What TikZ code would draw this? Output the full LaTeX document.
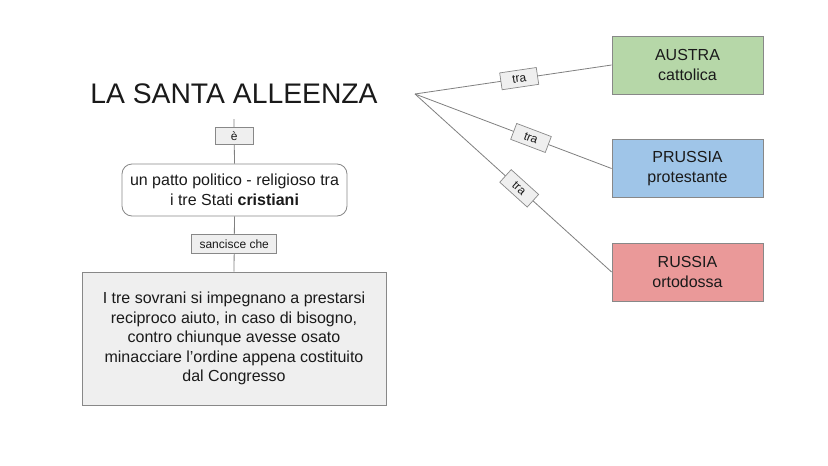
\documentclass[tikz,border=0pt]{standalone}
\usepackage{fontspec}
\setmainfont{Liberation Sans}
\definecolor{lineg}{HTML}{808080}
\definecolor{boxg}{HTML}{EFEFEF}
\definecolor{bord}{HTML}{888888}
\definecolor{txt}{HTML}{1A1A1A}
\definecolor{verde}{HTML}{B6D7A8}
\definecolor{blu}{HTML}{9FC5E8}
\definecolor{rosso}{HTML}{EA9999}
\tikzset{
  conn/.style={draw=lineg, line width=0.8pt},
  lab/.style={draw=bord, fill=boxg, line width=0.7pt, inner sep=0pt, text=txt,
    font=\fontsize{12}{14}\selectfont},
  country/.style={draw=bord, line width=0.8pt, minimum width=151pt, minimum height=58pt,
    inner sep=0pt, align=center, text=txt, font=\fontsize{16}{19.5}\selectfont},
}
\begin{document}
\begin{tikzpicture}[x=1pt,y=-1pt]
\useasboundingbox[fill=white] (0,0) rectangle (828,466);
\node[inner xsep=0pt, inner ysep=15pt, text=txt, font=\fontsize{28.3}{34}\selectfont] (title) at (234,94) {LA SANTA ALLEENZA};
\node[draw=bord, line width=0.8pt, rounded corners=10pt, minimum width=225pt, minimum height=52pt,
  inner sep=0pt, align=center, text=txt, font=\fontsize{16}{19.5}\selectfont] (patto) at (234.5,190)
  {un patto politico - religioso tra\\i tre Stati \textbf{cristiani}};
\node[draw=bord, fill=boxg, line width=0.8pt, minimum width=304pt, minimum height=133pt,
  inner sep=0pt, align=center, text=txt, font=\fontsize{16}{19.5}\selectfont] (big) at (234,338.5)
  {I tre sovrani si impegnano a prestarsi\\reciproco aiuto, in caso di bisogno,\\contro chiunque avesse osato\\minacciare l'ordine appena costituito\\dal Congresso};
\draw[conn] (title.south) -- node[lab, pos=0.375, minimum width=38pt, minimum height=17pt] (e) {è} (patto.north);
\draw[conn] (patto.south) -- node[lab, pos=0.5, minimum width=85pt, minimum height=19pt] (sc) {sancisce che} (big.north);
\coordinate (hub) at (415,94);
\node[country, fill=verde] (au) at (687.5,65) {AUSTRA\\cattolica};
\node[country, fill=blu] (pr) at (687.5,168.5) {PRUSSIA\\protestante};
\node[country, fill=rosso] (ru) at (687.5,272) {RUSSIA\\ortodossa};
\draw[conn] (hub) -- node[lab, sloped, pos=0.53, minimum width=37pt, minimum height=17pt] (t1) {tra} (au.west);
\draw[conn] (hub) -- node[lab, sloped, pos=0.59, minimum width=37pt, minimum height=17pt] (t2) {tra} (pr.west);
\draw[conn] (hub) -- node[lab, sloped, pos=0.53, minimum width=37pt, minimum height=17pt] (t3) {tra} (ru.west);
\end{tikzpicture}
\end{document}
